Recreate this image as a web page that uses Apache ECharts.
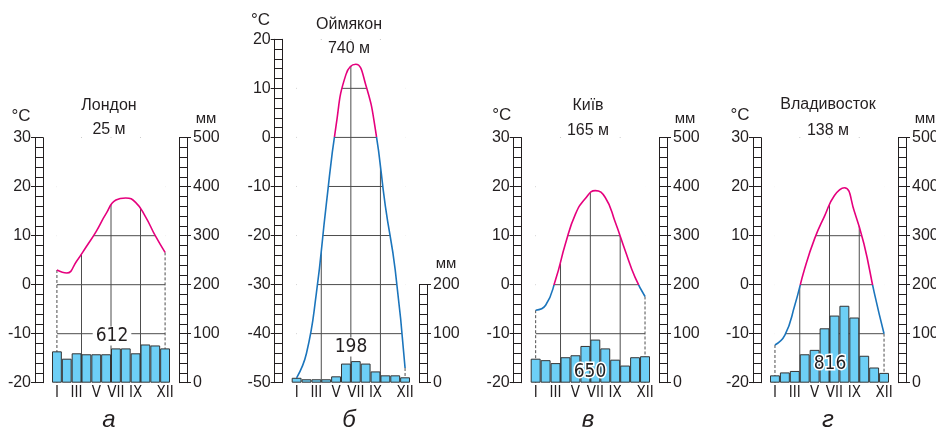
<!DOCTYPE html>
<html>
<head>
<meta charset="utf-8">
<script src="https://cdn.jsdelivr.net/npm/echarts@6/dist/echarts.min.js"></script>
<style>html,body{margin:0;background:#fff}#app{width:936px;height:429px}</style>
</head>
<body>
<div id="app"></div>
<script>
const months = ['I', 'II', 'III', 'IV', 'V', 'VI', 'VII', 'VIII', 'IX', 'X', 'XI', 'XII'];
const shownMonths = [0, 2, 4, 6, 8, 11];
const cities = ['Лондон', 'Оймякон', 'Київ', 'Владивосток'];
const altitudes = ['25 м', '740 м', '165 м', '138 м'];
const letters = ['а', 'б', 'в', 'г'];
const totals = [612, 198, 650, 816];

// температура, °C
const tempLondon = [3.0, 2.4, 4.8, 7.8, 10.9, 14.5, 17.3, 17.7, 16.8, 13.9, 10.0, 6.6];
const tempOymyakon = [-49, -44, -31.8, -13.8, 2.4, 12.8, 14.9, 10.8, 1.5, -14, -27, -47];
const tempKyiv = [-5.2, -4.2, 1.0, 8.4, 14.4, 17.6, 19.2, 17.8, 12.8, 7.0, 1.5, -2.4];
const tempVlad = [-12.3, -10.3, -4.2, 3.3, 9.4, 14.0, 18.2, 19.8, 15.0, 8.1, -1.5, -10.0];
// опади, мм
const precLondon = [64, 49, 60, 58, 58, 58, 70, 70, 60, 78, 76, 70];
const precOymyakon = [10, 7, 7, 7, 13, 39, 44, 39, 23, 15, 15, 11];
const precKyiv = [49, 46, 40, 52, 56, 75, 88, 70, 47, 35, 52, 54];
const precVlad = [15, 21, 24, 58, 67, 111, 137, 157, 133, 55, 31, 20];

const tempRange = [[-20, 30], [-50, 20], [-20, 30], [-20, 30]];
const precMax = [500, 200, 500, 500];

const temperatures = [tempLondon, tempOymyakon, tempKyiv, tempVlad];
const precipitation = [precLondon, precOymyakon, precKyiv, precVlad];

// розміщення панелей
const panels = [
  {left: 52, top: 137.7, width: 118, height: 245, cx: 109, tY: [106, 130], degC: [21, 116], mm: [206, 119], total: [112, 336]},
  {left: 291.7, top: 39.3, width: 118.3, height: 343.4, cx: 349, tY: [25, 49], degC: [260.5, 20.5], mm: [446, 264], total: [351, 347]},
  {left: 530.7, top: 137.7, width: 119.3, height: 245, cx: 588, tY: [106, 131], degC: [501.7, 115], mm: [685, 119], total: [590, 372]},
  {left: 770, top: 137.7, width: 119, height: 245, cx: 828, tY: [105, 131], degC: [740, 115], mm: [925, 119], total: [830, 364]}
];

const ink = '#231f20';
const magenta = '#e5007d';
const blue = '#1b75bc';
const font = "'Liberation Sans', Arial, sans-serif";
const narrow = "'Liberation Sans Narrow', 'DejaVu Sans Condensed', 'Liberation Sans', sans-serif";

function gridLines(k) {
  const [tMin, tMax] = tempRange[k];
  const temps = temperatures[k];
  return function (params, api) {
    const style = {stroke: '#4d4d4d', lineWidth: 1};
    const xs = months.map((m, i) => api.coord([i, tMin])[0]);
    const yOf = t => api.coord([0, t])[1];
    const children = [];
    for (let t = tMin + 10; t < tMax; t += 10) {
      children.push({type: 'line', shape: {x1: xs[0], y1: yOf(t), x2: xs[11], y2: yOf(t)}, style});
    }
    [2, 5, 8].forEach(i => {
      const x = (xs[i] + xs[i + 1]) / 2;
      children.push({type: 'line', shape: {x1: x, y1: yOf(tMax), x2: x, y2: yOf(tMin)}, style});
    });
    [0, 11].forEach(i => {
      children.push({type: 'line', shape: {x1: xs[i], y1: yOf(temps[i]), x2: xs[i], y2: yOf(tMin)},
        style: {stroke: '#4d4d4d', lineWidth: 1, lineDash: [3, 2]}});
    });
    return {type: 'group', children};
  };
}

function text(x, y, str, f, extra) {
  return {type: 'text', x, y, z: 100, silent: true,
    style: Object.assign({text: str, fill: ink, font: f, align: 'center', verticalAlign: 'middle'}, extra || {})};
}

const grid = [], xAxis = [], yAxis = [], series = [], graphic = [];
const lineStyle = {color: ink, width: 1};

panels.forEach((p, k) => {
  const [tMin, tMax] = tempRange[k];
  const precH = precMax[k] / 10 * p.height / (tMax - tMin);
  grid.push({left: p.left, top: p.top, width: p.width, height: p.height, containLabel: false, outerBoundsMode: 'none'});
  grid.push({left: p.left, top: p.top + p.height - precH, width: p.width, height: precH, containLabel: false, outerBoundsMode: 'none'});
  const gT = 2 * k, gP = 2 * k + 1;

  xAxis.push({
    type: 'category', gridIndex: gT, data: months, boundaryGap: true,
    axisLine: {show: false}, axisTick: {show: false}, splitLine: {show: false},
    axisLabel: {interval: i => shownMonths.includes(i), margin: 3, fontSize: 15, fontFamily: narrow, color: ink}
  });
  xAxis.push({type: 'category', gridIndex: gP, data: months, boundaryGap: true, show: false});

  const yT = yAxis.length;
  yAxis.push({
    type: 'value', gridIndex: gT, min: tMin, max: tMax, interval: 10, position: 'left', offset: 9,
    axisLine: {show: true, lineStyle}, axisTick: {show: true, length: 12, lineStyle},
    minorTick: {show: true, splitNumber: 5, length: 8, lineStyle},
    axisLabel: {margin: 12, fontSize: 16, fontFamily: font, color: ink},
    splitLine: {show: false}
  });
  yAxis.push({
    type: 'value', gridIndex: gT, min: tMin, max: tMax, position: 'left', offset: 17,
    axisLine: {show: true, lineStyle}, axisTick: {show: false}, axisLabel: {show: false}, splitLine: {show: false}
  });
  const yP = yAxis.length;
  yAxis.push({
    type: 'value', gridIndex: gP, min: 0, max: precMax[k], interval: 100, position: 'right', offset: 9,
    axisLine: {show: true, lineStyle}, axisTick: {show: true, length: 12, lineStyle},
    minorTick: {show: true, splitNumber: 5, length: 8, lineStyle},
    axisLabel: {margin: 14, fontSize: 16, fontFamily: font, color: ink},
    splitLine: {show: false}
  });
  yAxis.push({
    type: 'value', gridIndex: gP, min: 0, max: precMax[k], position: 'right', offset: 17,
    axisLine: {show: true, lineStyle}, axisTick: {show: false}, axisLabel: {show: false}, splitLine: {show: false}
  });

  // колір лінії: вище 0 °C — малиновий, нижче — синій
  const zeroPos = tMax / (tMax - tMin);
  const tempColor = new echarts.graphic.LinearGradient(0, p.top, 0, p.top + p.height, [
    {offset: 0, color: magenta}, {offset: zeroPos, color: magenta},
    {offset: zeroPos, color: blue}, {offset: 1, color: blue}
  ], true);

  series.push({
    type: 'custom', xAxisIndex: gT, yAxisIndex: yT, data: [[0, tMin]], renderItem: gridLines(k), z: 1, silent: true
  });
  series.push({
    type: 'line', xAxisIndex: gT, yAxisIndex: yT, data: temperatures[k], smooth: true, symbol: 'none',
    stack: 'mask' + k, stackStrategy: 'all', lineStyle: {width: 1.6, color: tempColor}, z: 4, silent: true
  });
  series.push({
    type: 'line', xAxisIndex: gT, yAxisIndex: yT, data: temperatures[k].map(t => tMax - t), smooth: true, symbol: 'none',
    stack: 'mask' + k, stackStrategy: 'all', lineStyle: {width: 0, opacity: 0}, areaStyle: {color: '#fff', opacity: 1},
    z: 2, silent: true
  });
  series.push({
    type: 'bar', xAxisIndex: gP, yAxisIndex: yP, data: precipitation[k], barCategoryGap: '0%',
    itemStyle: {color: '#6dcff6', borderColor: '#333', borderWidth: 1}, z: 3, silent: true
  });

  graphic.push(text(p.degC[0], p.degC[1], '°C', `17px ${font}`));
  graphic.push(text(p.mm[0], p.mm[1], 'мм', `15px ${font}`));
  graphic.push(text(p.cx, p.tY[0], cities[k], `16px ${font}`));
  graphic.push(text(p.cx, p.tY[1], altitudes[k], `16px ${font}`));
  graphic.push(text(p.cx, 420, letters[k], `italic 24px ${font}`));
  const extra = k < 2
    ? {backgroundColor: '#fff', padding: [0, 3]}
    : {stroke: '#fff', lineWidth: 3};
  graphic.push(text(p.total[0], p.total[1], String(totals[k]), `19px ${narrow}`, extra));
});

const chart = echarts.init(document.getElementById('app'));
chart.setOption({
  animation: false,
  backgroundColor: '#fff',
  grid, xAxis, yAxis, series, graphic
});
</script>
</body>
</html>
